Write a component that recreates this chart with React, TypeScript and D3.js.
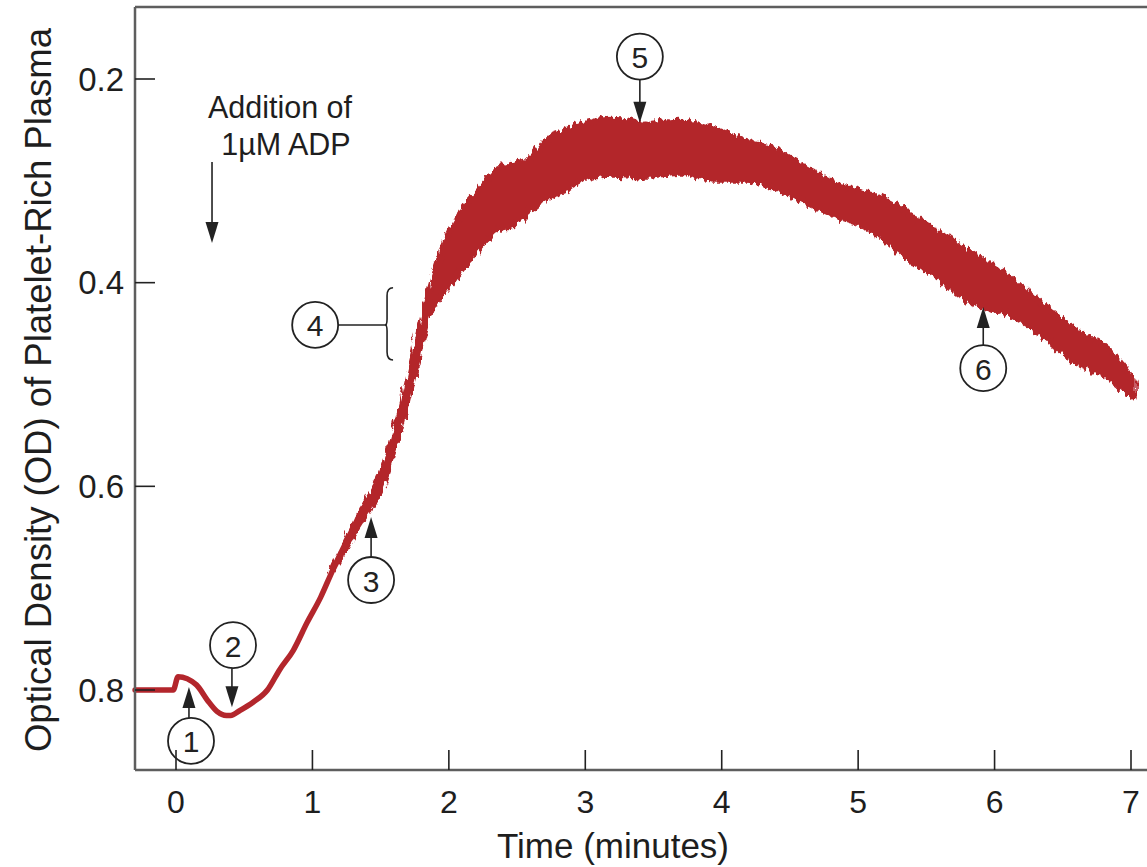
import React from "react";
import * as d3 from "d3";

// ---- Data ----
const timeMin = [
  -0.3, -0.02, 0.015, 0.15, 0.23, 0.3, 0.37, 0.4, 0.47, 0.565, 0.67, 0.76, 0.86, 0.96, 1.06, 1.15,
  1.37, 1.5, 1.62, 1.74, 1.86, 1.99, 2.1, 2.23, 2.35, 2.47, 2.6, 2.72, 2.84, 2.96, 3.2, 3.45, 3.7,
  3.94, 4.19, 4.38, 4.63, 4.87, 5.11, 5.36, 5.6, 5.84, 6.09, 6.33, 6.58, 6.83, 7.02,
];
// upper edge of the noisy trace (lower OD)
const odTop = [
  0.8, 0.8, 0.787, 0.795, 0.81, 0.821, 0.825, 0.825, 0.82, 0.812, 0.8, 0.78, 0.761, 0.734, 0.709, 0.682,
  0.622, 0.59, 0.54, 0.473, 0.408, 0.356, 0.329, 0.309, 0.29, 0.284, 0.278, 0.259, 0.252, 0.245, 0.24,
  0.244, 0.242, 0.249, 0.262, 0.269, 0.288, 0.305, 0.314, 0.332, 0.352, 0.372, 0.393, 0.419, 0.446,
  0.465, 0.497,
];
// lower edge of the noisy trace (higher OD)
const odBottom = [
  0.8, 0.8, 0.787, 0.795, 0.81, 0.821, 0.825, 0.825, 0.82, 0.812, 0.8, 0.78, 0.761, 0.734, 0.709, 0.682,
  0.631, 0.603, 0.556, 0.492, 0.43, 0.404, 0.385, 0.365, 0.348, 0.343, 0.327, 0.316, 0.31, 0.299,
  0.294, 0.296, 0.292, 0.299, 0.299, 0.306, 0.322, 0.336, 0.349, 0.375, 0.397, 0.42, 0.43, 0.449,
  0.476, 0.493, 0.512,
];

const xTicks = [0, 1, 2, 3, 4, 5, 6, 7];
const yTicks = [0.2, 0.4, 0.6, 0.8];

// annotation markers: label, circle position (t, od), arrow tip (t, od)
const markers = [
  { label: "1", t: 0.11, od: 0.85, tipT: 0.095, tipOd: 0.797 },
  { label: "2", t: 0.418, od: 0.756, tipT: 0.41, tipOd: 0.817 },
  { label: "3", t: 1.43, od: 0.692, tipT: 1.43, tipOd: 0.63 },
  { label: "5", t: 3.4, od: 0.178, tipT: 3.4, tipOd: 0.243 },
  { label: "6", t: 5.917, od: 0.484, tipT: 5.917, tipOd: 0.424 },
];

const W = 1147;
const H = 867;
const FONT = "'Liberation Sans', Arial, Helvetica, sans-serif";
const RED = "#b3262c";
const INK = "#222";
const AXIS = "#5e5e5e";
const TXT = "#1e1e1e";

type Row = { t: number; top: number; bottom: number };

export default function App() {
  const x = d3.scaleLinear().domain([0, 7]).range([176, 1131]);
  const y = d3.scaleLinear().domain([0.2, 0.8]).range([79, 690]);
  const left = 135;
  const top = 7;
  const bottom = 770;

  const rows: Row[] = timeMin.map((t, i) => ({ t, top: odTop[i], bottom: odBottom[i] }));
  const area = d3
    .area<Row>()
    .x((d) => x(d.t))
    .y0((d) => y(d.bottom))
    .y1((d) => y(d.top))
    .curve(d3.curveMonotoneX);

  const smoothRows = rows.filter((d) => d.t <= 1.4);
  const noisyRows = rows.filter((d) => d.t >= 1.15);

  const R = 23;

  const arrowHead = (tx: number, ty: number, dir: number) => {
    const len = 21;
    const hw = 6.5;
    return `M${tx},${ty} L${tx - hw},${ty - dir * len} L${tx + hw},${ty - dir * len} Z`;
  };

  const adpX = x(0.264);
  const braceX = x(1.547);
  const braceTop = y(0.405);
  const braceBot = y(0.476);
  const braceMid = y(0.4415);
  const c4x = x(1.02);
  const c4y = y(0.4415);

  return (
    <svg
      width={W}
      height={H}
      style={{ position: "absolute", left: 0, top: 0, background: "#fff" }}
      fontFamily={FONT}
    >
      <defs>
        <filter id="rough" x="-5%" y="-20%" width="110%" height="140%">
          <feTurbulence type="fractalNoise" baseFrequency="0.3 0.07" numOctaves={2} seed={3} result="n" />
          <feDisplacementMap in="SourceGraphic" in2="n" scale={10} xChannelSelector="R" yChannelSelector="G" />
        </filter>
      </defs>
      <rect width={W} height={H} fill="#fff" />

      {/* trace: smooth early part and noisy band */}
      <path
        d={area(smoothRows) || ""}
        fill={RED}
        stroke={RED}
        strokeWidth={5.5}
        strokeLinejoin="round"
        strokeLinecap="round"
      />
      <path
        d={area(noisyRows) || ""}
        fill={RED}
        stroke={RED}
        strokeWidth={6}
        strokeLinejoin="round"
        strokeLinecap="round"
        filter="url(#rough)"
      />

      {/* frame */}
      <line x1={left} x2={W + 5} y1={top} y2={top} stroke={AXIS} strokeWidth={2.5} />
      <line x1={left} x2={left} y1={top} y2={bottom} stroke={AXIS} strokeWidth={2.5} />

      {/* y ticks */}
      {yTicks.map((v) => (
        <g key={v}>
          <line x1={left} x2={left + 20} y1={y(v)} y2={y(v)} stroke={INK} strokeWidth={1.6} />
          <text x={124} y={y(v)} textAnchor="end" dominantBaseline="central" fontSize={33} fill={TXT}>
            {d3.format(".1f")(v)}
          </text>
        </g>
      ))}

      {/* annotation markers */}
      {markers.map((m) => {
        const cx = x(m.t);
        const cy = y(m.od);
        const tx = x(m.tipT);
        const ty = y(m.tipOd);
        const dir = ty > cy ? 1 : -1;
        const startY = cy + dir * R;
        return (
          <g key={m.label}>
            <line x1={tx} x2={tx} y1={startY} y2={ty - dir * 18} stroke={INK} strokeWidth={1.6} />
            <path d={arrowHead(tx, ty, dir)} fill={INK} />
            <circle cx={cx} cy={cy} r={R} fill="#fff" stroke={INK} strokeWidth={1.8} />
            <text x={cx} y={cy + 1} textAnchor="middle" dominantBaseline="central" fontSize={30} fill={INK}>
              {m.label}
            </text>
          </g>
        );
      })}

      {/* marker 4 with brace */}
      <g>
        <line x1={c4x + R} x2={braceX} y1={c4y} y2={c4y} stroke={INK} strokeWidth={1.6} />
        <path
          d={`M${braceX + 6},${braceTop} Q${braceX},${braceTop} ${braceX},${braceTop + 8} L${braceX},${
            braceMid - 6
          } Q${braceX},${braceMid} ${braceX - 2},${braceMid} Q${braceX},${braceMid} ${braceX},${
            braceMid + 6
          } L${braceX},${braceBot - 8} Q${braceX},${braceBot} ${braceX + 6},${braceBot}`}
          fill="none"
          stroke={INK}
          strokeWidth={1.6}
        />
        <circle cx={c4x} cy={c4y} r={R} fill="#fff" stroke={INK} strokeWidth={1.8} />
        <text x={c4x} y={c4y + 1} textAnchor="middle" dominantBaseline="central" fontSize={30} fill={INK}>
          4
        </text>
      </g>

      {/* ADP annotation */}
      <text x={280} y={118} textAnchor="middle" fontSize={30.5} fill={TXT}>
        Addition of
      </text>
      <text x={286} y={155} textAnchor="middle" fontSize={30.5} fill={TXT}>
        1µM ADP
      </text>
      <line x1={adpX} x2={adpX} y1={y(0.2815)} y2={y(0.361) - 18} stroke={INK} strokeWidth={1.6} />
      <path d={arrowHead(adpX, y(0.361), 1)} fill={INK} />

      {/* x axis */}
      <line x1={left} x2={W + 5} y1={bottom} y2={bottom} stroke={AXIS} strokeWidth={2.5} />
      {xTicks.map((t) => (
        <g key={t}>
          <line x1={x(t)} x2={x(t)} y1={bottom} y2={bottom - 20} stroke={INK} strokeWidth={1.6} />
          <text x={x(t)} y={813} textAnchor="middle" fontSize={32} fill={TXT}>
            {t}
          </text>
        </g>
      ))}

      {/* axis titles */}
      <text x={613} y={858} textAnchor="middle" fontSize={35} fill={TXT}>
        Time (minutes)
      </text>
      <text
        transform={`translate(38, 390) rotate(-90)`}
        textAnchor="middle"
        dominantBaseline="central"
        fontSize={36.5}
        fill={TXT}
      >
        Optical Density (OD) of Platelet-Rich Plasma
      </text>
    </svg>
  );
}
